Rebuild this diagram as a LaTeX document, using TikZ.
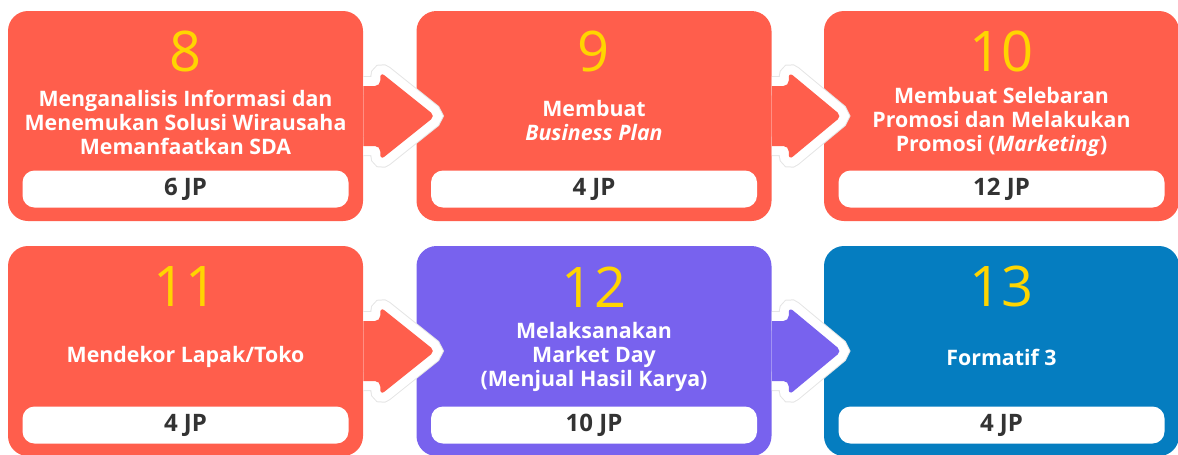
\documentclass[tikz,border=0pt]{standalone}
\usepackage{fontspec}
\setmainfont{Open Sans}
\usetikzlibrary{calc}

\definecolor{boxred}{HTML}{FF5E4C}
\definecolor{boxpurple}{HTML}{7862EE}
\definecolor{boxblue}{HTML}{057DC0}
\definecolor{numyellow}{HTML}{FFD500}
\definecolor{pilltext}{HTML}{333333}

\tikzset{
  stepbox/.style={rectangle, rounded corners=15pt, minimum width=266.25pt, minimum height=157.5pt, inner sep=0pt},
  numtext/.style={text=numyellow, font=\fontsize{42}{42}\selectfont, inner sep=0pt},
  titletext/.style={text=white, align=center, font=\bfseries\fontsize{16}{18}\selectfont, inner sep=0pt},
  jppill/.style={fill=white, rounded corners=9pt, minimum width=244.5pt, minimum height=27.75pt, inner sep=0pt, text=pilltext, font=\bfseries\fontsize{18}{18}\selectfont},
  flowarrow/.style={preaction={draw=gray!20, line width=15pt}, preaction={draw=white, line width=13.5pt}, rounded corners=4pt}
}

\begin{document}
\begin{tikzpicture}[x=0.75pt,y=0.75pt,yscale=-1]
\useasboundingbox (0,0) rectangle (1178,454);

% boxes
\node[stepbox, fill=boxred] (b8) at (185.5,116) {};
\node[stepbox, fill=boxred] (b9) at (594,116) {};
\node[stepbox, fill=boxred] (b10) at (1001.5,116) {};
\node[stepbox, fill=boxred] (b11) at (185.5,351) {};
\node[stepbox, fill=boxpurple] (b12) at (594,351) {};
\node[stepbox, fill=boxblue] (b13) at (1001.5,351) {};

% arrows between the boxes
\begin{scope}
\clip (b8.north east) rectangle (b9.south east);
\path[flowarrow, fill=boxred] ($(b8.east)+(-20,-30)$) -- ++(37,0) -- ++(0,-14) -- ++(55,44) -- ++(-55,44) -- ++(0,-14) -- ++(-37,0) -- cycle;
\end{scope}
\begin{scope}
\clip (b9.north east) rectangle (b10.south east);
\path[flowarrow, fill=boxred] ($(b9.east)+(-20,-30)$) -- ++(37,0) -- ++(0,-14) -- ++(53,44) -- ++(-53,44) -- ++(0,-14) -- ++(-37,0) -- cycle;
\end{scope}
\begin{scope}
\clip (b11.north east) rectangle (b12.south east);
\path[flowarrow, fill=boxred] ($(b11.east)+(-20,-30)$) -- ++(37,0) -- ++(0,-14) -- ++(55,44) -- ++(-55,44) -- ++(0,-14) -- ++(-37,0) -- cycle;
\end{scope}
\begin{scope}
\clip (b12.north east) rectangle (b13.south east);
\path[flowarrow, fill=boxpurple] ($(b12.east)+(-20,-30)$) -- ++(37,0) -- ++(0,-14) -- ++(53,44) -- ++(-53,44) -- ++(0,-14) -- ++(-37,0) -- cycle;
\end{scope}

% numbers
\node[numtext] (n8) at ($(b8.north)+(0,41)$) {8};
\node[numtext] (n9) at ($(b9.north)+(0,41)$) {9};
\node[numtext] (n10) at ($(b10.north)+(0,41)$) {10};
\node[numtext] (n11) at ($(b11.north)+(0,41)$) {11};
\node[numtext] (n12) at ($(b12.north)+(0,41)$) {12};
\node[numtext] (n13) at ($(b13.north)+(0,41)$) {13};

% titles
\node[titletext] (t8) at ($(b8.center)+(0,6)$) {Menganalisis Informasi dan\\Menemukan Solusi Wirausaha\\Memanfaatkan SDA};
\node[titletext] (t9) at ($(b9.center)+(0,4)$) {Membuat\\\textit{Business Plan}};
\node[titletext] (t10) at ($(b10.center)+(0,6)$) {Membuat Selebaran\\Promosi dan Melakukan\\Promosi (\textit{Marketing})};
\node[titletext] (t11) at ($(b11.center)+(0,6)$) {Mendekor Lapak/Toko};
\node[titletext] (t12) at ($(b12.center)+(0,6)$) {Melaksanakan\\Market Day\\(Menjual Hasil Karya)};
\node[titletext] (t13) at ($(b13.center)+(0,6)$) {Formatif 3};

% hours
\node[jppill] (p8) at ($(b8.center)+(0,73)$) {6 JP};
\node[jppill] (p9) at ($(b9.center)+(0,73)$) {4 JP};
\node[jppill] (p10) at ($(b10.center)+(0,73)$) {12 JP};
\node[jppill] (p11) at ($(b11.center)+(0,74)$) {4 JP};
\node[jppill] (p12) at ($(b12.center)+(0,74)$) {10 JP};
\node[jppill] (p13) at ($(b13.center)+(0,74)$) {4 JP};

\end{tikzpicture}
\end{document}
